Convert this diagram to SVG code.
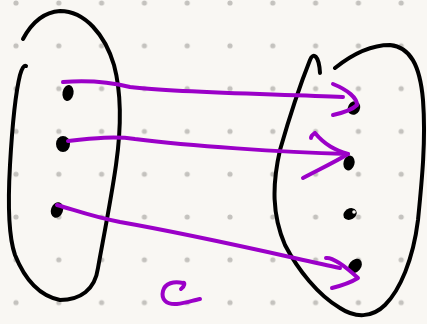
<svg xmlns="http://www.w3.org/2000/svg" width="427" height="324" viewBox="0 0 427 324">
<defs>
<pattern id="grid" x="-26.8" y="-39.8" width="42.8" height="42.8" patternUnits="userSpaceOnUse">
<circle cx="42.8" cy="42.8" r="2.6" fill="#c4c2be"/>
<circle cx="0" cy="0" r="2.6" fill="#c4c2be"/>
<circle cx="42.8" cy="0" r="2.6" fill="#c4c2be"/>
<circle cx="0" cy="42.8" r="2.6" fill="#c4c2be"/>
</pattern>
<style>
.set{fill:none;stroke:#000;stroke-width:4;stroke-linecap:round;stroke-linejoin:round}
.pt{fill:#000}
.arr{fill:none;stroke:#9b00c8;stroke-width:4;stroke-linecap:round;stroke-linejoin:round}
</style>
</defs>
<rect width="427" height="324" fill="#f9f7f3"/>
<rect width="427" height="324" fill="url(#grid)"/>
<g id="setA">
<path class="set" d="M23,39 C32,22 45,12 60,11 C85,11 105,35 114,65 C122,95 121,130 116,165 C111,200 103,240 98,268 C95,290 80,300 60,300 C40,296 25,280 15,255 C8,235 8,200 10,165 C12,130 15,95 20,75 C22,68 24,65 26,66"/>
</g>
<g id="setB">
<path class="set" d="M335,68 C350,56 370,45 390,45 C410,47 420,65 423,100 C426,140 422,180 418,220 C413,260 400,290 385,305 C372,318 355,318 340,308 C318,295 298,270 285,245 C272,215 272,185 280,150 C290,115 302,80 310,60 C313,52 319,55 320,73"/>
</g>
<g id="a1"><ellipse class="pt" cx="68" cy="93" rx="5.5" ry="8" transform="rotate(10 68 93)"/></g>
<g id="a2"><ellipse class="pt" cx="63" cy="144" rx="7" ry="8"/></g>
<g id="a3"><ellipse class="pt" cx="57" cy="210" rx="6" ry="8" transform="rotate(20 57 210)"/></g>
<g id="b1"><ellipse class="pt" cx="354" cy="108" rx="6" ry="7" transform="rotate(30 354 108)"/></g>
<g id="b2"><ellipse class="pt" cx="349" cy="163" rx="5.5" ry="7.5" transform="rotate(15 349 163)"/></g>
<g id="b3"><ellipse class="pt" cx="350" cy="214" rx="7" ry="5.5" transform="rotate(-30 350 214)"/><circle cx="354" cy="212" r="1.8" fill="#f9f7f3"/></g>
<g id="b4"><ellipse class="pt" cx="355" cy="266" rx="6" ry="8" transform="rotate(40 355 266)"/></g>
<g id="connectors">
<path class="arr" d="M63,82 C90,80 110,82 130,87 C180,93 280,94 343,97"/>
<path class="arr" d="M333,84 C348,90 357,98 357,105 C352,110 342,113 333,115"/>
<path class="arr" d="M68,141 C95,138 115,136 135,139 C190,146 280,152 348,154"/>
<path class="arr" d="M315,133 C312,135 311,137 311,138 M315,133 C325,145 335,150 348,154 C335,162 318,170 303,178"/>
<path class="arr" d="M57,205 C75,210 90,216 120,222 C200,236 280,255 340,268"/>
<path class="arr" d="M326,258 C332,257 345,266 358,278 C350,283 340,286 332,288"/>
<path class="arr" d="M183,283 C185,282 185,286 181,289 M183,283 C174,281 165,283 163,291 C161,299 166,305 177,304 C186,303 194,300 200,299" stroke-width="6"/>
</g>
</svg>
